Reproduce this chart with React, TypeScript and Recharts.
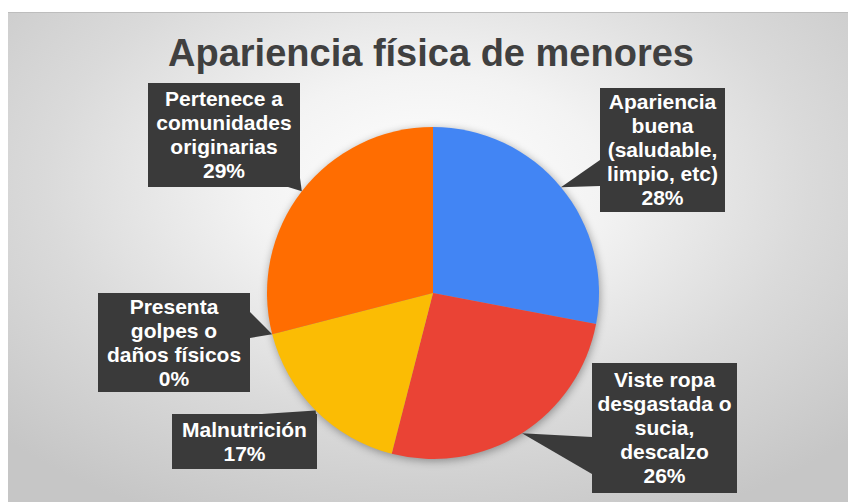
import React from 'react';
import { PieChart, Pie, Cell } from 'recharts';

// slices, clockwise from 12 o'clock
const categories = [
  'Apariencia buena (saludable, limpio, etc)',
  'Viste ropa desgastada o sucia, descalzo',
  'Malnutrición',
  'Presenta golpes o daños físicos',
  'Pertenece a comunidades originarias',
];
const labelLines = [
  ['Apariencia', 'buena', '(saludable,', 'limpio, etc)'],
  ['Viste ropa', 'desgastada o', 'sucia,', 'descalzo'],
  ['Malnutrición'],
  ['Presenta', 'golpes o', 'daños físicos'],
  ['Pertenece a', 'comunidades', 'originarias'],
];
const percentages = [28, 26, 17, 0, 29];
const sliceColors = ['#4285F4', '#EA4335', '#FBBC04', '#FF6D01', '#FF6D01'];

const chartData = categories.map((name, i) => ({ name, value: percentages[i] }));

// callout box layout (page px): box rect + two base points of the pointer
const calloutBoxes = [
  { x: 600, y: 88, w: 125, h: 124, base: [[600, 160], [600, 186]] },
  { x: 592, y: 363, w: 145, h: 130, base: [[592, 437], [592, 474]] },
  { x: 172, y: 414, w: 145, h: 55, base: [[262, 414], [316, 414]] },
  { x: 98, y: 293, w: 152, h: 99, base: [[250, 312], [250, 338]] },
  { x: 148, y: 83, w: 152, h: 104, base: [[288, 187], [300, 178]] },
];

const RADIAN = Math.PI / 180;
const LINE_H = 24;

const renderCallout = (props: any) => {
  const { cx, cy, midAngle, outerRadius, index, value } = props;
  const box = calloutBoxes[index];
  const tipX = cx + outerRadius * Math.cos(-midAngle * RADIAN);
  const tipY = cy + outerRadius * Math.sin(-midAngle * RADIAN);
  const lines = [...labelLines[index], `${value}%`];
  const midY = box.y + box.h / 2;
  const textX = box.x + box.w / 2;
  return (
    <g key={`callout-${index}`}>
      <polygon
        points={`${tipX},${tipY} ${box.base[0][0]},${box.base[0][1]} ${box.base[1][0]},${box.base[1][1]}`}
        fill="#3a3a3a"
      />
      <rect x={box.x} y={box.y} width={box.w} height={box.h} fill="#3a3a3a" />
      {lines.map((ln, j) => (
        <text
          key={j}
          x={textX}
          y={midY + (j - (lines.length - 1) / 2) * LINE_H + 7}
          textAnchor="middle"
          fill="#ffffff"
          fontSize={21}
          fontWeight="bold"
          fontFamily="'Liberation Sans', Arial, sans-serif"
        >
          {ln}
        </text>
      ))}
    </g>
  );
};

const App: React.FC = () => {
  return (
    <div style={{ position: 'absolute', left: 0, top: 0, width: 848, height: 502, background: '#fff', overflow: 'hidden' }}>
      <style>{`.recharts-pie { filter: drop-shadow(1px 2px 4px rgba(0,0,0,0.35)); }`}</style>
      <div
        style={{
          position: 'absolute', left: 8, top: 12, width: 840, height: 490,
          borderTop: '1px solid #bdbdbd',
          background: 'radial-gradient(ellipse 70% 75% at 50% 35%, #ffffff 0%, #f3f3f3 30%, #dadada 65%, #c6c6c6 100%)',
        }}
      />
      <svg width={848} height={502} style={{ position: 'absolute', left: 0, top: 0 }}>
        <text
          x={431}
          y={66}
          textAnchor="middle"
          fill="#404040"
          fontSize={38}
          fontWeight="bold"
          fontFamily="'Liberation Sans', Arial, sans-serif"
        >
          Apariencia física de menores
        </text>
      </svg>
      <div style={{ position: 'absolute', left: 0, top: 0 }}>
        <PieChart width={848} height={502} margin={{ top: 0, right: 0, bottom: 0, left: 0 }}>
          <Pie
            data={chartData}
            dataKey="value"
            nameKey="name"
            cx={433}
            cy={293}
            outerRadius={166}
            startAngle={90}
            endAngle={-270}
            stroke="none"
            label={renderCallout}
            labelLine={false}
            isAnimationActive={false}
          >
            {chartData.map((d, i) => (
              <Cell key={d.name} fill={sliceColors[i]} />
            ))}
          </Pie>
        </PieChart>
      </div>
    </div>
  );
};

export default App;
